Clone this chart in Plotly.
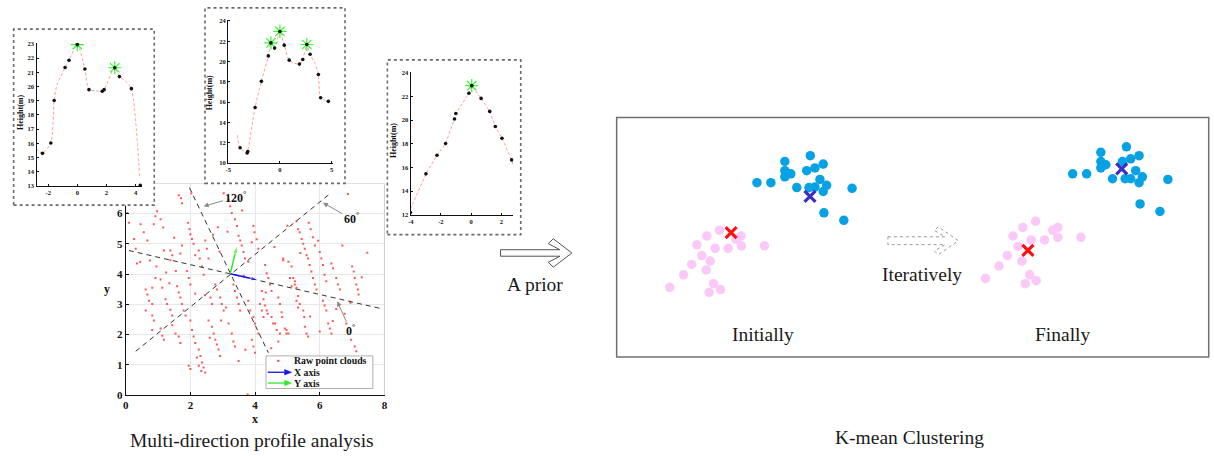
import plotly.graph_objects as go

W, H = 1214, 456
SERIF = "Liberation Serif"


def fx(p):
    return p / W


def fy(p):
    return 1 - p / H


def dom_x(a, b):
    return [fx(a), fx(b)]


def dom_y(top, bottom):
    return [fy(bottom), fy(top)]


# ---------------- raw point cloud (x, y in metres) ----------------
RAW_X = [0.10, 0.05, 0.26, 0.31, 0.46, 0.56, 0.67, 0.87, 0.92, 0.97, 1.08, 1.16,
         0.62, 0.67, 0.72, 0.82, 0.62, 0.82, 0.87, 0.82, 1.08, 1.13, 1.18, 0.82,
         0.92, 1.08, 1.13, 1.23, 1.28, 1.38, 1.44, 1.59, 1.64, 1.69, 1.74, 1.79,
         1.85, 1.44, 1.54, 1.64, 1.69, 1.18, 1.38, 1.44, 1.38, 1.74, 1.69, 1.64,
         1.71, 1.74, 2.03, 1.93, 1.97, 2.00, 2.05, 2.10, 2.15, 2.26, 2.29, 2.46,
         2.51, 2.56, 2.36, 2.41, 1.95, 2.00, 2.00, 2.05, 2.10, 2.15, 2.26, 2.31,
         2.36, 2.41, 2.46, 1.95, 2.00, 2.20, 2.26, 2.34, 2.56, 2.67, 2.72, 2.77,
         2.82, 2.87, 2.92, 2.62, 2.67, 2.77, 2.82, 2.92, 2.97, 3.03, 2.95, 3.18,
         3.28, 3.33, 3.38, 3.33, 3.38, 3.44, 3.49, 3.54, 3.79, 3.85, 3.95, 4.00,
         4.10, 3.90, 3.95, 4.00, 3.49, 3.95, 3.98, 3.90, 4.10, 3.38, 3.44, 3.49,
         3.54, 3.18, 3.23, 3.28, 3.03, 3.59, 3.64, 3.69, 3.79, 4.31, 4.36, 4.41,
         4.46, 4.51, 4.21, 4.26, 4.31, 4.36, 4.62, 4.67, 4.77, 4.87, 5.03, 5.08,
         5.13, 4.97, 5.03, 5.23, 5.28, 5.33, 5.38, 3.77,
         6.87, 5.28, 5.33, 5.38, 5.44, 5.49, 5.54, 5.59, 5.66, 5.72, 5.79, 5.85,
         5.64, 5.69, 5.74, 5.79, 5.85, 5.90, 6.00, 6.05, 6.10, 6.15, 6.20, 6.36,
         6.41, 6.51, 6.56, 6.62, 7.00, 7.05, 7.08, 7.13, 7.18, 7.20, 7.47, 4.33,
         4.39, 4.15, 4.21, 4.26, 4.51, 4.56, 4.72, 4.92, 4.97, 4.72, 4.77, 4.82,
         4.84, 5.18, 5.23, 5.28, 5.33, 5.49, 5.52, 5.54, 5.59, 5.64, 6.10, 6.15,
         6.20, 6.26, 6.31, 6.36, 6.77, 6.82, 6.97, 7.08, 7.13, 4.87, 5.13, 6.51,
         6.00, 2.45, 2.60, 3.10, 3.65, 1.50, 0.45, 1.90,
         0.35, 0.75, 1.25, 1.55, 2.70, 2.90, 3.15, 3.60, 4.05, 4.60, 5.00, 5.40,
         5.95, 6.70, 7.30, 0.95, 1.35, 2.85, 3.70, 4.50, 5.70, 6.40, 6.95, 2.15]
RAW_Y = [5.70, 6.02, 5.16, 4.84, 5.65, 5.38, 5.11, 5.65, 5.91, 6.08, 5.81, 5.54,
         3.49, 3.33, 3.12, 3.01, 2.80, 2.63, 2.47, 2.15, 2.20, 1.96, 1.83, 3.55,
         3.87, 3.82, 3.55, 3.17, 3.01, 2.82, 2.63, 3.60, 3.39, 3.23, 3.01, 2.80,
         2.63, 2.31, 2.04, 1.94, 1.72, 4.78, 4.78, 4.62, 4.46, 4.95, 4.68, 6.61,
         6.51, 6.34, 6.67, 5.70, 5.48, 5.32, 5.16, 5.00, 4.62, 4.78, 4.52, 5.11,
         4.84, 4.52, 4.25, 3.98, 3.87, 3.66, 2.47, 2.15, 1.94, 1.72, 1.51, 1.29,
         1.08, 0.91, 0.75, 0.97, 0.86, 1.24, 0.97, 0.80, 2.47, 2.26, 2.04, 1.83,
         1.67, 1.51, 1.29, 3.23, 3.01, 3.66, 3.49, 3.23, 3.01, 2.80, 2.47, 2.37,
         2.04, 1.77, 1.61, 3.66, 3.44, 3.23, 3.01, 2.80, 3.12, 2.80, 2.58, 2.37,
         2.04, 1.83, 1.61, 1.40, 1.13, 5.59, 5.38, 5.05, 4.84, 5.81, 5.59, 5.27,
         5.11, 6.45, 6.24, 6.02, 6.67, 4.95, 4.73, 4.52, 4.41, 4.30, 4.03, 3.87,
         3.66, 3.44, 3.44, 3.17, 2.96, 2.80, 2.37, 2.15, 2.04, 4.52, 4.41, 3.87,
         3.60, 2.15, 2.04, 3.76, 3.55, 3.28, 3.01, 0.02,
         6.65, 5.75, 5.48, 5.38, 5.16, 5.00, 4.84, 4.62, 5.70, 5.48, 5.22, 4.95,
         4.52, 4.30, 4.09, 3.87, 3.66, 3.49, 4.73, 4.52, 4.30, 3.98, 3.76, 4.35,
         4.19, 3.87, 3.66, 3.49, 4.25, 4.09, 3.87, 3.66, 3.49, 3.33, 4.71, 3.39,
         2.69, 3.01, 2.80, 2.58, 2.58, 2.37, 1.77, 2.20, 2.04, 3.23, 3.01, 2.74,
         2.58, 3.87, 3.66, 3.12, 2.90, 2.80, 2.58, 2.26, 2.04, 1.94, 3.12, 2.96,
         2.80, 2.37, 2.20, 2.04, 2.69, 2.37, 1.83, 1.61, 1.45, 4.46, 4.25, 2.85,
         2.10, 3.30, 1.90, 2.90, 3.95, 5.20, 4.40, 4.10,
         4.35, 4.45, 4.05, 4.10, 5.30, 4.75, 5.40, 6.10, 5.15, 4.90, 5.60, 4.70,
         5.10, 4.95, 3.90, 4.25, 3.70, 5.55, 1.50, 1.55, 2.60, 2.45, 3.05, 3.35]

# profile directions through the analysis centre
CENTER = [3.23, 4.01]
DIR_0_X, DIR_0_Y = [0.10, 7.85], [4.78, 2.87]
DIR_60_X, DIR_60_Y = [0.31, 6.33], [1.45, 6.67]
DIR_120_X, DIR_120_Y = [1.97, 4.41], [6.86, 1.40]
X_AXIS_TIP = [4.10, 3.80]
Y_AXIS_TIP = [3.44, 4.93]

# angle labels: (label, text position, arrow target)
ANGLE_LABELS = ["120", "60", "0"]
ANGLE_TEXT_X = [3.38, 6.97, 6.95]
ANGLE_TEXT_Y = [6.54, 5.83, 2.13]
ANGLE_HEAD_X = [2.41, 6.10, 6.54]
ANGLE_HEAD_Y = [6.24, 6.36, 3.10]

# main-plot tick marks
MAIN_XTICKS = [0, 2, 4, 6, 8]
MAIN_YTICKS = [0, 1, 2, 3, 4, 5, 6]

# ---------------- height profiles ----------------
P1_X = [-2.39, -1.82, -1.59, -0.84, -0.57, 0.00, 0.52, 0.80, 1.71, 1.84, 2.57, 2.89, 3.71, 4.32]
P1_Y = [15.30, 16.03, 19.02, 21.34, 21.85, 22.95, 21.23, 19.78, 19.67, 19.78, 21.32, 20.70, 19.85, 13.05]
C1_X = [-2.84, -2.39, -1.82, -1.59, -1.40, -0.84, -0.57, 0.00, 0.52, 0.80, 1.25, 1.71, 1.84,
        2.57, 2.89, 3.35, 3.71, 4.28]
C1_Y = [15.64, 15.30, 16.03, 19.02, 20.10, 21.34, 21.85, 22.95, 21.23, 19.78, 19.70, 19.67, 19.78,
        21.32, 20.70, 20.35, 19.85, 13.57]
PK1_X, PK1_Y = [0.00, 2.57], [22.95, 21.32]

P2_X = [-3.85, -3.17, -3.11, -2.40, -1.79, -1.12, -0.87, -0.51, 0.00, 0.42, 0.90, 1.89, 2.21,
        2.60, 2.92, 3.72, 3.94, 4.68]
P2_Y = [11.51, 11.00, 11.13, 15.47, 18.05, 20.56, 21.84, 21.33, 22.97, 21.62, 20.14, 19.75, 20.20,
        21.68, 20.72, 18.72, 16.44, 16.08]
C2_X = [-4.10, -3.85, -3.17, -3.11, -2.40, -1.79, -1.12, -0.87, -0.51, 0.00, 0.42, 0.90, 1.40,
        1.89, 2.21, 2.60, 2.92, 3.35, 3.72, 3.94, 4.68]
C2_Y = [12.74, 11.51, 11.00, 11.13, 15.47, 18.05, 20.56, 21.84, 21.33, 22.97, 21.62, 20.14, 19.85,
        19.75, 20.20, 21.68, 20.72, 19.90, 18.72, 16.44, 16.08]
PK2_X, PK2_Y = [-0.87, 0.00, 2.60], [21.84, 22.97, 21.68]

P3_X = [-4.02, -2.99, -2.26, -1.69, -1.10, -1.01, -0.15, 0.04, 0.66, 1.23, 1.60, 2.04, 2.68]
P3_Y = [12.19, 15.46, 17.03, 18.03, 20.10, 20.57, 22.28, 22.92, 21.84, 20.74, 19.46, 18.47, 16.64]
C3_X = [-4.02, -2.99, -2.26, -1.69, -1.10, -1.01, -0.15, 0.04, 0.66, 1.23, 1.60, 2.04, 2.68, 2.81]
C3_Y = [12.47, 15.46, 17.03, 18.03, 20.10, 20.57, 22.28, 22.92, 21.84, 20.74, 19.46, 18.47, 16.64, 16.06]
PK3_X, PK3_Y = [0.04], [22.92]

# ---------------- k-means illustration ----------------
INIT_BLUE_X = [169.0, 194.6, 169.0, 175.0, 169.0, 191.0, 199.3, 207.6, 204.3, 141.0, 155.0,
               181.0, 193.3, 199.3, 211.0, 207.6, 236.6, 208.3, 228.3]
INIT_BLUE_Y = [199.3, 205.3, 190.0, 186.7, 183.7, 190.0, 192.7, 196.7, 181.0, 177.7, 177.7,
               172.7, 172.7, 173.3, 175.0, 168.7, 172.0, 147.0, 139.3]
INIT_PINK_X = [103.3, 90.6, 125.0, 120.0, 80.6, 99.0, 112.0, 125.3, 148.6, 85.6, 94.0, 75.3,
               90.0, 67.3, 53.3, 97.3, 104.3, 93.0]
INIT_PINK_Y = [129.3, 123.3, 123.3, 120.0, 114.3, 110.7, 110.7, 113.3, 113.3, 103.3, 97.7, 94.3,
               88.7, 83.7, 71.0, 74.7, 68.7, 65.7]
INIT_CENT_X = [115.0, 194.3]
INIT_CENT_Y = [126.7, 163.7]

FINAL_BLUE_X = [486.6, 512.3, 486.6, 491.6, 486.6, 508.3, 516.6, 525.0, 521.6, 458.3, 472.3,
                498.3, 511.0, 516.6, 528.3, 525.0, 554.0, 526.0, 546.0]
FINAL_BLUE_Y = [208.7, 214.3, 199.3, 196.0, 192.7, 199.3, 202.0, 205.3, 190.0, 186.7, 186.7,
                181.7, 181.7, 181.7, 183.7, 177.7, 181.0, 156.0, 148.3]
FINAL_PINK_X = [421.0, 408.3, 443.3, 438.3, 398.3, 416.6, 430.0, 443.3, 466.6, 403.3, 392.6,
                407.3, 384.3, 370.6, 415.0, 421.6, 410.6]
FINAL_PINK_Y = [138.3, 132.0, 132.0, 129.3, 123.3, 119.3, 119.3, 122.0, 122.0, 112.7, 103.3,
                97.7, 92.7, 80.0, 83.7, 77.7, 74.7]
FINAL_CENT_X = [413.3, 507.6]
FINAL_CENT_Y = [108.7, 191.7]

BLUE = "#08a2e4"
PINK = "#fbc9f7"
CENT_COLORS = ["#ff1010", "#3b2fc4"]
STAR_GREEN = "#3df23d"
X_BLUE = "#1414f0"
Y_GREEN = "#2ee82e"

fig = go.Figure()

# ---- main scatter (x / y) ----
fig.add_trace(go.Scatter(x=RAW_X, y=RAW_Y, mode="markers",
                         marker=dict(symbol="square", size=2.0, color="#ff3a3a", opacity=0.85),
                         xaxis="x", yaxis="y"))
for lx, ly in [(DIR_0_X, DIR_0_Y), (DIR_60_X, DIR_60_Y), (DIR_120_X, DIR_120_Y)]:
    fig.add_trace(go.Scatter(x=lx, y=ly, mode="lines",
                             line=dict(color="#333333", width=1, dash="5px,4px"),
                             xaxis="x", yaxis="y"))
# light frame on the top and right
fig.add_trace(go.Scatter(x=[0, 8, 8], y=[7, 7, 0], mode="lines",
                         line=dict(color="#cfcfcf", width=1), xaxis="x", yaxis="y"))
# local X / Y axis arrows from the analysis centre
for tip, col in [(X_AXIS_TIP, X_BLUE), (Y_AXIS_TIP, Y_GREEN)]:
    fig.add_trace(go.Scatter(x=[CENTER[0], tip[0]], y=[CENTER[1], tip[1]], mode="lines+markers",
                             line=dict(color=col, width=1.5),
                             marker=dict(symbol="arrow", size=[0, 8], color=col,
                                         angleref="previous"),
                             xaxis="x", yaxis="y"))

# ---- white panels behind the profile insets ----
for xa, ya in [("x2", "y2"), ("x4", "y4")]:
    fig.add_trace(go.Scatter(x=[0], y=[0], mode="markers", marker=dict(opacity=0),
                             xaxis=xa, yaxis=ya))


def add_profile(xa, ya, cx, cy, px, py, kx, ky, shape):
    fig.add_trace(go.Scatter(x=cx, y=cy, mode="lines",
                             line=dict(color="#ff9f9f", width=1, dash="3px,2px",
                                       shape=shape, smoothing=0.7),
                             xaxis=xa, yaxis=ya))
    fig.add_trace(go.Scatter(x=kx, y=ky, mode="markers",
                             marker=dict(symbol="asterisk-open", size=11, color=STAR_GREEN,
                                         line=dict(color=STAR_GREEN, width=1.2)),
                             xaxis=xa, yaxis=ya))
    fig.add_trace(go.Scatter(x=px, y=py, mode="markers",
                             marker=dict(size=3.6, color="#111111"),
                             xaxis=xa, yaxis=ya))


add_profile("x3", "y3", C1_X, C1_Y, P1_X, P1_Y, PK1_X, PK1_Y, "spline")
add_profile("x5", "y5", C2_X, C2_Y, P2_X, P2_Y, PK2_X, PK2_Y, "spline")
add_profile("x6", "y6", C3_X, C3_Y, P3_X, P3_Y, PK3_X, PK3_Y, "linear")

# ---- k-means panel (x7 / y7) ----
for bx, by, pxs, pys, cxs, cys in [
        (INIT_BLUE_X, INIT_BLUE_Y, INIT_PINK_X, INIT_PINK_Y, INIT_CENT_X, INIT_CENT_Y),
        (FINAL_BLUE_X, FINAL_BLUE_Y, FINAL_PINK_X, FINAL_PINK_Y, FINAL_CENT_X, FINAL_CENT_Y)]:
    fig.add_trace(go.Scatter(x=pxs, y=pys, mode="markers",
                             marker=dict(size=9.5, color=PINK), xaxis="x7", yaxis="y7"))
    fig.add_trace(go.Scatter(x=bx, y=by, mode="markers",
                             marker=dict(size=9.5, color=BLUE), xaxis="x7", yaxis="y7"))
    fig.add_trace(go.Scatter(x=cxs, y=cys, mode="markers",
                             marker=dict(symbol="x-thin-open", size=11, color=CENT_COLORS,
                                         line=dict(color=CENT_COLORS, width=3.2)),
                             xaxis="x7", yaxis="y7"))

tick_bold_main = dict(family=SERIF, size=11, color="#111")
tick_bold_small = dict(family=SERIF, size=6.5, color="#111")


def inset_axis(domain, rng, tickvals):
    return dict(domain=domain, range=rng, tickvals=tickvals,
                ticktext=["<b>%g</b>" % v for v in tickvals],
                showline=True, linecolor="#111", linewidth=1.3, ticks="inside",
                ticklen=2, tickcolor="#111", tickfont=tick_bold_small,
                showgrid=False, zeroline=False)


hidden = dict(visible=False, showgrid=False, zeroline=False)

layout = dict(
    width=W, height=H, margin=dict(l=0, r=0, t=0, b=0),
    paper_bgcolor="white", plot_bgcolor="white", showlegend=False,
    hovermode=False,
    xaxis=dict(domain=dom_x(123.3, 384), range=[0, 8.02], tickvals=MAIN_XTICKS,
               ticktext=["<b>%d</b>" % v for v in MAIN_XTICKS],
               showline=True, linecolor="#111", linewidth=1.2, ticks="inside",
               ticklen=3, tickcolor="#111", tickfont=tick_bold_main,
               showgrid=True, gridcolor="#e8e8e8", zeroline=False, anchor="y"),
    yaxis=dict(domain=dom_y(184, 400), range=[0, 7], tickvals=MAIN_YTICKS,
               ticktext=["<b>%d</b>" % v for v in MAIN_YTICKS],
               showline=True, linecolor="#111", linewidth=1.2, ticks="inside",
               ticklen=3, tickcolor="#111", tickfont=tick_bold_main,
               showgrid=True, gridcolor="#e8e8e8", zeroline=False, anchor="x"),
    xaxis2=dict(domain=dom_x(10.7, 152), anchor="y2", **hidden),
    yaxis2=dict(domain=dom_y(26.7, 206.7), anchor="x2", **hidden),
    xaxis3=dict(anchor="y3", **inset_axis(dom_x(33.7, 139.7), [-2.80, 4.44], [-2, 0, 2, 4])),
    yaxis3=dict(anchor="x3", **inset_axis(dom_y(40.7, 186.7), [13, 23.07], list(range(13, 24)))),
    xaxis4=dict(domain=dom_x(203, 343.7), anchor="y4", **hidden),
    yaxis4=dict(domain=dom_y(5, 185.5), anchor="x4", **hidden),
    xaxis5=dict(anchor="y5", **inset_axis(dom_x(226.3, 331.3), [-5.0, 5.1], [-5, 0, 5])),
    yaxis5=dict(anchor="x5", **inset_axis(dom_y(17.3, 163.3), [10, 24.1], list(range(10, 25, 2)))),
    xaxis6=dict(anchor="y6", **inset_axis(dom_x(409.7, 513.0), [-4, 2.8], [-4, -2, 0, 2])),
    yaxis6=dict(anchor="x6", **inset_axis(dom_y(70.7, 216), [12, 24.05], list(range(12, 25, 2)))),
    xaxis7=dict(domain=dom_x(616.7, 1211.7), range=[0, 595], anchor="y7", **hidden),
    yaxis7=dict(domain=dom_y(116.7, 361), range=[0, 244.3], anchor="x7", **hidden),
)
fig.update_layout(**layout)

shapes = []
# dotted frames around the profile insets
for (x0, y0, x1, y1) in [(10.7, 26.7, 152, 206.2), (203, 5, 343.7, 184), (386.3, 58, 520.3, 236.3)]:
    shapes.append(dict(type="rect", xref="paper", yref="paper", layer="above",
                       x0=fx(x0), x1=fx(x1), y0=fy(y1), y1=fy(y0),
                       line=dict(color="#6a6a6a", width=1.6, dash="dot"),
                       fillcolor="rgba(0,0,0,0)"))
# k-means frame
shapes.append(dict(type="rect", xref="paper", yref="paper", layer="above",
                   x0=fx(616.7), x1=fx(1211.7), y0=fy(361), y1=fy(116.7),
                   line=dict(color="#707070", width=1.5), fillcolor="rgba(0,0,0,0)"))
# legend box of the point-cloud plot
shapes.append(dict(type="rect", xref="paper", yref="paper", layer="above",
                   x0=fx(264.3), x1=fx(371.7), y0=fy(393.3), y1=fy(360),
                   line=dict(color="#b0b0b0", width=1), fillcolor="white"))
shapes.append(dict(type="rect", xref="paper", yref="paper", layer="above",
                   x0=fx(275.7), x1=fx(277.7), y0=fy(366), y1=fy(364),
                   line=dict(width=0), fillcolor="#ff2a2a"))


def outline_path(points, close=True):
    s = "M " + " L ".join("%.5f,%.5f" % (fx(a), fy(b)) for a, b in points)
    return s + (" Z" if close else "")


# legend samples for the two local axes
for ypix, col in [(376.7, X_BLUE), (387.7, Y_GREEN)]:
    shapes.append(dict(type="line", xref="paper", yref="paper", layer="above",
                       x0=fx(266), x1=fx(285), y0=fy(ypix), y1=fy(ypix),
                       line=dict(color=col, width=1.3)))
    shapes.append(dict(type="path", xref="paper", yref="paper", layer="above",
                       path=outline_path([(283, ypix - 2.8), (290, ypix), (283, ypix + 2.8)]),
                       line=dict(color=col, width=0.5), fillcolor=col))

# hollow block arrows between panels
prior_arrow = [(500, 251.7), (559.7, 251.7), (548, 245.5), (553, 240.5), (571.7, 255),
               (553, 269.5), (548, 264.5), (559.7, 258.3), (500, 258.3)]
iter_arrow = [(889.3, 238.5), (946.8, 238.5), (936, 232), (940, 228.3), (960, 242.5),
              (940, 256.7), (936, 253), (946.8, 246.5), (889.3, 246.5)]
shapes.append(dict(type="path", xref="paper", yref="paper", layer="above",
                   path=outline_path(prior_arrow), line=dict(color="#555", width=1),
                   fillcolor="white"))
shapes.append(dict(type="path", xref="paper", yref="paper", layer="above",
                   path=outline_path(iter_arrow), line=dict(color="#9a9a9a", width=1, dash="dot"),
                   fillcolor="white"))
fig.update_layout(shapes=shapes)

ann = []
# direction labels
for lab, tx, ty, hx, hy in zip(ANGLE_LABELS, ANGLE_TEXT_X, ANGLE_TEXT_Y, ANGLE_HEAD_X, ANGLE_HEAD_Y):
    ann.append(dict(x=hx, y=hy, ax=tx, ay=ty, xref="x", yref="y", axref="x", ayref="y",
                    showarrow=True, arrowhead=2, arrowsize=1, arrowwidth=1,
                    arrowcolor="#8a8a8a", text="<b>%s<sup>°</sup></b>" % lab,
                    font=dict(family=SERIF, size=12, color="#111")))
# legend entries
for ypix, txt in [(365, "Raw point clouds"), (376.7, "X axis"), (387.7, "Y axis")]:
    ann.append(dict(x=fx(290.5), y=fy(ypix), xref="paper", yref="paper", showarrow=False,
                    xanchor="left", yanchor="middle", text="<b>%s</b>" % txt,
                    font=dict(family=SERIF, size=9.8, color="#111")))


def centred(xp, yp, txt, size, angle=0):
    return dict(x=fx(xp), y=fy(yp), xref="paper", yref="paper", showarrow=False,
                xanchor="center", yanchor="middle", text=txt, textangle=angle,
                font=dict(family=SERIF, size=size, color="#111"))


# axis titles
ann.append(centred(253.3, 424.5, "<b>x</b>", 12))
ann.append(centred(105, 291.7, "<b>y</b>", 12))
for xp, yp in [(17.5, 111.7), (207.5, 91.7), (392.5, 140.3)]:
    ann.append(centred(xp, yp, "<b>Height(m)</b>", 8, -90))
# captions
for xp, yp, txt in [(535, 286.7, "A prior"), (923.3, 276.7, "Iteratively"),
                    (763.3, 337.7, "Initially"), (1065, 337.7, "Finally"),
                    (250, 446, "Multi-direction profile analysis"),
                    (911, 443, "K-mean Clustering")]:
    a = centred(xp, yp, txt, 19.5)
    a["font"]["color"] = "#1a1a1a"
    ann.append(a)
fig.update_layout(annotations=ann)

fig.write_html("out.html")
